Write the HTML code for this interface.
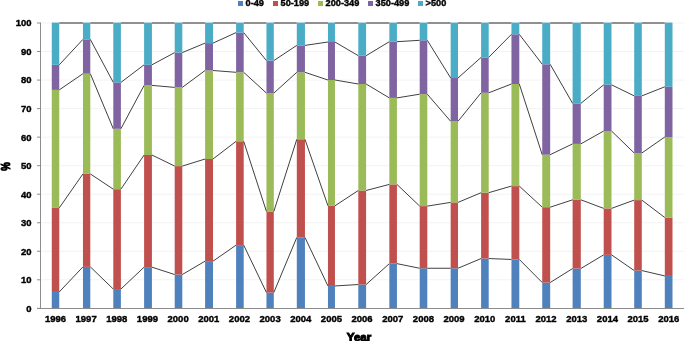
<!DOCTYPE html>
<html><head><meta charset="utf-8"><style>
html,body{margin:0;padding:0;background:#fff;}
body{width:685px;height:341px;overflow:hidden;}
svg{display:block;will-change:transform;}
.t{font-family:"Liberation Sans",sans-serif;font-weight:bold;font-size:9.5px;fill:#000;stroke:#000;stroke-width:0.4px;}
</style></head><body>
<svg width="685" height="341" viewBox="0 0 685 341">
<line x1="41" y1="279.81" x2="684" y2="279.81" stroke="#f3f3f3" stroke-width="1"/>
<line x1="41" y1="251.28" x2="684" y2="251.28" stroke="#f3f3f3" stroke-width="1"/>
<line x1="41" y1="222.75" x2="684" y2="222.75" stroke="#f3f3f3" stroke-width="1"/>
<line x1="41" y1="194.21" x2="684" y2="194.21" stroke="#f3f3f3" stroke-width="1"/>
<line x1="41" y1="165.68" x2="684" y2="165.68" stroke="#f3f3f3" stroke-width="1"/>
<line x1="41" y1="137.14" x2="684" y2="137.14" stroke="#f3f3f3" stroke-width="1"/>
<line x1="41" y1="108.61" x2="684" y2="108.61" stroke="#f3f3f3" stroke-width="1"/>
<line x1="41" y1="80.07" x2="684" y2="80.07" stroke="#f3f3f3" stroke-width="1"/>
<line x1="41" y1="51.53" x2="684" y2="51.53" stroke="#f3f3f3" stroke-width="1"/>
<line x1="41" y1="23.00" x2="684" y2="23.00" stroke="#f3f3f3" stroke-width="1"/>
<rect x="51.77" y="291.95" width="7.48" height="16.05" fill="#4F81BD"/>
<rect x="51.77" y="207.90" width="7.48" height="84.05" fill="#C0504D"/>
<rect x="51.77" y="89.90" width="7.48" height="118.00" fill="#9BBB59"/>
<rect x="51.77" y="64.80" width="7.48" height="25.10" fill="#8064A2"/>
<rect x="51.77" y="22.60" width="7.48" height="42.20" fill="#4BACC6"/>
<rect x="82.96" y="266.85" width="7.34" height="41.15" fill="#4F81BD"/>
<rect x="82.96" y="173.90" width="7.34" height="92.95" fill="#C0504D"/>
<rect x="82.96" y="73.70" width="7.34" height="100.20" fill="#9BBB59"/>
<rect x="82.96" y="39.40" width="7.34" height="34.30" fill="#8064A2"/>
<rect x="82.96" y="22.60" width="7.34" height="16.80" fill="#4BACC6"/>
<rect x="113.30" y="289.05" width="7.60" height="18.95" fill="#4F81BD"/>
<rect x="113.30" y="189.20" width="7.60" height="99.85" fill="#C0504D"/>
<rect x="113.30" y="128.80" width="7.60" height="60.40" fill="#9BBB59"/>
<rect x="113.30" y="82.40" width="7.60" height="46.40" fill="#8064A2"/>
<rect x="113.30" y="22.60" width="7.60" height="59.80" fill="#4BACC6"/>
<rect x="144.10" y="267.15" width="7.83" height="40.85" fill="#4F81BD"/>
<rect x="144.10" y="155.00" width="7.83" height="112.15" fill="#C0504D"/>
<rect x="144.10" y="85.40" width="7.83" height="69.60" fill="#9BBB59"/>
<rect x="144.10" y="64.80" width="7.83" height="20.60" fill="#8064A2"/>
<rect x="144.10" y="22.60" width="7.83" height="42.20" fill="#4BACC6"/>
<rect x="174.70" y="274.55" width="7.60" height="33.45" fill="#4F81BD"/>
<rect x="174.70" y="166.10" width="7.60" height="108.45" fill="#C0504D"/>
<rect x="174.70" y="87.40" width="7.60" height="78.70" fill="#9BBB59"/>
<rect x="174.70" y="52.60" width="7.60" height="34.80" fill="#8064A2"/>
<rect x="174.70" y="22.60" width="7.60" height="30.00" fill="#4BACC6"/>
<rect x="205.10" y="261.15" width="7.90" height="46.85" fill="#4F81BD"/>
<rect x="205.10" y="159.00" width="7.90" height="102.15" fill="#C0504D"/>
<rect x="205.10" y="70.50" width="7.90" height="88.50" fill="#9BBB59"/>
<rect x="205.10" y="43.10" width="7.90" height="27.40" fill="#8064A2"/>
<rect x="205.10" y="22.60" width="7.90" height="20.50" fill="#4BACC6"/>
<rect x="236.10" y="245.15" width="7.60" height="62.85" fill="#4F81BD"/>
<rect x="236.10" y="141.30" width="7.60" height="103.85" fill="#C0504D"/>
<rect x="236.10" y="72.30" width="7.60" height="69.00" fill="#9BBB59"/>
<rect x="236.10" y="32.60" width="7.60" height="39.70" fill="#8064A2"/>
<rect x="236.10" y="22.60" width="7.60" height="10.00" fill="#4BACC6"/>
<rect x="266.46" y="292.55" width="7.34" height="15.45" fill="#4F81BD"/>
<rect x="266.46" y="211.50" width="7.34" height="81.05" fill="#C0504D"/>
<rect x="266.46" y="93.10" width="7.34" height="118.40" fill="#9BBB59"/>
<rect x="266.46" y="60.60" width="7.34" height="32.50" fill="#8064A2"/>
<rect x="266.46" y="22.60" width="7.34" height="38.00" fill="#4BACC6"/>
<rect x="296.80" y="237.45" width="8.15" height="70.55" fill="#4F81BD"/>
<rect x="296.80" y="139.30" width="8.15" height="98.15" fill="#C0504D"/>
<rect x="296.80" y="72.30" width="8.15" height="67.00" fill="#9BBB59"/>
<rect x="296.80" y="45.40" width="8.15" height="26.90" fill="#8064A2"/>
<rect x="296.80" y="22.60" width="8.15" height="22.80" fill="#4BACC6"/>
<rect x="327.96" y="285.95" width="7.00" height="22.05" fill="#4F81BD"/>
<rect x="327.96" y="205.80" width="7.00" height="80.15" fill="#C0504D"/>
<rect x="327.96" y="80.00" width="7.00" height="125.80" fill="#9BBB59"/>
<rect x="327.96" y="42.00" width="7.00" height="38.00" fill="#8064A2"/>
<rect x="327.96" y="22.60" width="7.00" height="19.40" fill="#4BACC6"/>
<rect x="358.30" y="284.55" width="7.80" height="23.45" fill="#4F81BD"/>
<rect x="358.30" y="190.50" width="7.80" height="94.05" fill="#C0504D"/>
<rect x="358.30" y="84.00" width="7.80" height="106.50" fill="#9BBB59"/>
<rect x="358.30" y="55.70" width="7.80" height="28.30" fill="#8064A2"/>
<rect x="358.30" y="22.60" width="7.80" height="33.10" fill="#4BACC6"/>
<rect x="389.34" y="263.65" width="7.59" height="44.35" fill="#4F81BD"/>
<rect x="389.34" y="184.40" width="7.59" height="79.25" fill="#C0504D"/>
<rect x="389.34" y="97.90" width="7.59" height="86.50" fill="#9BBB59"/>
<rect x="389.34" y="41.70" width="7.59" height="56.20" fill="#8064A2"/>
<rect x="389.34" y="22.60" width="7.59" height="19.10" fill="#4BACC6"/>
<rect x="419.70" y="268.25" width="7.60" height="39.75" fill="#4F81BD"/>
<rect x="419.70" y="206.10" width="7.60" height="62.15" fill="#C0504D"/>
<rect x="419.70" y="94.20" width="7.60" height="111.90" fill="#9BBB59"/>
<rect x="419.70" y="40.30" width="7.60" height="53.90" fill="#8064A2"/>
<rect x="419.70" y="22.60" width="7.60" height="17.70" fill="#4BACC6"/>
<rect x="450.66" y="268.25" width="7.34" height="39.75" fill="#4F81BD"/>
<rect x="450.66" y="202.40" width="7.34" height="65.85" fill="#C0504D"/>
<rect x="450.66" y="121.30" width="7.34" height="81.10" fill="#9BBB59"/>
<rect x="450.66" y="78.00" width="7.34" height="43.30" fill="#8064A2"/>
<rect x="450.66" y="22.60" width="7.34" height="55.40" fill="#4BACC6"/>
<rect x="481.10" y="258.55" width="7.60" height="49.45" fill="#4F81BD"/>
<rect x="481.10" y="192.70" width="7.60" height="65.85" fill="#C0504D"/>
<rect x="481.10" y="92.80" width="7.60" height="99.90" fill="#9BBB59"/>
<rect x="481.10" y="57.40" width="7.60" height="35.40" fill="#8064A2"/>
<rect x="481.10" y="22.60" width="7.60" height="34.80" fill="#4BACC6"/>
<rect x="511.46" y="259.45" width="7.84" height="48.55" fill="#4F81BD"/>
<rect x="511.46" y="186.10" width="7.84" height="73.35" fill="#C0504D"/>
<rect x="511.46" y="84.00" width="7.84" height="102.10" fill="#9BBB59"/>
<rect x="511.46" y="34.30" width="7.84" height="49.70" fill="#8064A2"/>
<rect x="511.46" y="22.60" width="7.84" height="11.70" fill="#4BACC6"/>
<rect x="542.24" y="282.55" width="7.94" height="25.45" fill="#4F81BD"/>
<rect x="542.24" y="207.20" width="7.94" height="75.35" fill="#C0504D"/>
<rect x="542.24" y="154.70" width="7.94" height="52.50" fill="#9BBB59"/>
<rect x="542.24" y="64.30" width="7.94" height="90.40" fill="#8064A2"/>
<rect x="542.24" y="22.60" width="7.94" height="41.70" fill="#4BACC6"/>
<rect x="572.60" y="268.55" width="8.20" height="39.45" fill="#4F81BD"/>
<rect x="572.60" y="199.80" width="8.20" height="68.75" fill="#C0504D"/>
<rect x="572.60" y="143.90" width="8.20" height="55.90" fill="#9BBB59"/>
<rect x="572.60" y="103.40" width="8.20" height="40.50" fill="#8064A2"/>
<rect x="572.60" y="22.60" width="8.20" height="80.80" fill="#4BACC6"/>
<rect x="603.70" y="254.85" width="7.80" height="53.15" fill="#4F81BD"/>
<rect x="603.70" y="208.40" width="7.80" height="46.45" fill="#C0504D"/>
<rect x="603.70" y="131.00" width="7.80" height="77.40" fill="#9BBB59"/>
<rect x="603.70" y="84.80" width="7.80" height="46.20" fill="#8064A2"/>
<rect x="603.70" y="22.60" width="7.80" height="62.20" fill="#4BACC6"/>
<rect x="634.20" y="270.55" width="7.60" height="37.45" fill="#4F81BD"/>
<rect x="634.20" y="200.10" width="7.60" height="70.45" fill="#C0504D"/>
<rect x="634.20" y="153.00" width="7.60" height="47.10" fill="#9BBB59"/>
<rect x="634.20" y="95.90" width="7.60" height="57.10" fill="#8064A2"/>
<rect x="634.20" y="22.60" width="7.60" height="73.30" fill="#4BACC6"/>
<rect x="664.80" y="275.95" width="7.70" height="32.05" fill="#4F81BD"/>
<rect x="664.80" y="217.50" width="7.70" height="58.45" fill="#C0504D"/>
<rect x="664.80" y="137.00" width="7.70" height="80.50" fill="#9BBB59"/>
<rect x="664.80" y="86.80" width="7.70" height="50.20" fill="#8064A2"/>
<rect x="664.80" y="22.60" width="7.70" height="64.20" fill="#4BACC6"/>
<line x1="59.25" y1="291.95" x2="82.96" y2="266.85" stroke="#404040" stroke-width="1"/>
<line x1="90.30" y1="266.85" x2="113.30" y2="289.05" stroke="#404040" stroke-width="1"/>
<line x1="120.90" y1="289.05" x2="144.10" y2="267.15" stroke="#404040" stroke-width="1"/>
<line x1="151.93" y1="267.15" x2="174.70" y2="274.55" stroke="#404040" stroke-width="1"/>
<line x1="182.30" y1="274.55" x2="205.10" y2="261.15" stroke="#404040" stroke-width="1"/>
<line x1="213.00" y1="261.15" x2="236.10" y2="245.15" stroke="#404040" stroke-width="1"/>
<line x1="243.70" y1="245.15" x2="266.46" y2="292.55" stroke="#404040" stroke-width="1"/>
<line x1="273.80" y1="292.55" x2="296.80" y2="237.45" stroke="#404040" stroke-width="1"/>
<line x1="304.95" y1="237.45" x2="327.96" y2="285.95" stroke="#404040" stroke-width="1"/>
<line x1="334.96" y1="285.95" x2="358.30" y2="284.55" stroke="#404040" stroke-width="1"/>
<line x1="366.10" y1="284.55" x2="389.34" y2="263.65" stroke="#404040" stroke-width="1"/>
<line x1="396.93" y1="263.65" x2="419.70" y2="268.25" stroke="#404040" stroke-width="1"/>
<line x1="427.30" y1="268.25" x2="450.66" y2="268.25" stroke="#404040" stroke-width="1"/>
<line x1="458.00" y1="268.25" x2="481.10" y2="258.55" stroke="#404040" stroke-width="1"/>
<line x1="488.70" y1="258.55" x2="511.46" y2="259.45" stroke="#404040" stroke-width="1"/>
<line x1="519.30" y1="259.45" x2="542.24" y2="282.55" stroke="#404040" stroke-width="1"/>
<line x1="550.18" y1="282.55" x2="572.60" y2="268.55" stroke="#404040" stroke-width="1"/>
<line x1="580.80" y1="268.55" x2="603.70" y2="254.85" stroke="#404040" stroke-width="1"/>
<line x1="611.50" y1="254.85" x2="634.20" y2="270.55" stroke="#404040" stroke-width="1"/>
<line x1="641.80" y1="270.55" x2="664.80" y2="275.95" stroke="#404040" stroke-width="1"/>
<line x1="59.25" y1="207.90" x2="82.96" y2="173.90" stroke="#404040" stroke-width="1"/>
<line x1="90.30" y1="173.90" x2="113.30" y2="189.20" stroke="#404040" stroke-width="1"/>
<line x1="120.90" y1="189.20" x2="144.10" y2="155.00" stroke="#404040" stroke-width="1"/>
<line x1="151.93" y1="155.00" x2="174.70" y2="166.10" stroke="#404040" stroke-width="1"/>
<line x1="182.30" y1="166.10" x2="205.10" y2="159.00" stroke="#404040" stroke-width="1"/>
<line x1="213.00" y1="159.00" x2="236.10" y2="141.30" stroke="#404040" stroke-width="1"/>
<line x1="243.70" y1="141.30" x2="266.46" y2="211.50" stroke="#404040" stroke-width="1"/>
<line x1="273.80" y1="211.50" x2="296.80" y2="139.30" stroke="#404040" stroke-width="1"/>
<line x1="304.95" y1="139.30" x2="327.96" y2="205.80" stroke="#404040" stroke-width="1"/>
<line x1="334.96" y1="205.80" x2="358.30" y2="190.50" stroke="#404040" stroke-width="1"/>
<line x1="366.10" y1="190.50" x2="389.34" y2="184.40" stroke="#404040" stroke-width="1"/>
<line x1="396.93" y1="184.40" x2="419.70" y2="206.10" stroke="#404040" stroke-width="1"/>
<line x1="427.30" y1="206.10" x2="450.66" y2="202.40" stroke="#404040" stroke-width="1"/>
<line x1="458.00" y1="202.40" x2="481.10" y2="192.70" stroke="#404040" stroke-width="1"/>
<line x1="488.70" y1="192.70" x2="511.46" y2="186.10" stroke="#404040" stroke-width="1"/>
<line x1="519.30" y1="186.10" x2="542.24" y2="207.20" stroke="#404040" stroke-width="1"/>
<line x1="550.18" y1="207.20" x2="572.60" y2="199.80" stroke="#404040" stroke-width="1"/>
<line x1="580.80" y1="199.80" x2="603.70" y2="208.40" stroke="#404040" stroke-width="1"/>
<line x1="611.50" y1="208.40" x2="634.20" y2="200.10" stroke="#404040" stroke-width="1"/>
<line x1="641.80" y1="200.10" x2="664.80" y2="217.50" stroke="#404040" stroke-width="1"/>
<line x1="59.25" y1="89.90" x2="82.96" y2="73.70" stroke="#404040" stroke-width="1"/>
<line x1="90.30" y1="73.70" x2="113.30" y2="128.80" stroke="#404040" stroke-width="1"/>
<line x1="120.90" y1="128.80" x2="144.10" y2="85.40" stroke="#404040" stroke-width="1"/>
<line x1="151.93" y1="85.40" x2="174.70" y2="87.40" stroke="#404040" stroke-width="1"/>
<line x1="182.30" y1="87.40" x2="205.10" y2="70.50" stroke="#404040" stroke-width="1"/>
<line x1="213.00" y1="70.50" x2="236.10" y2="72.30" stroke="#404040" stroke-width="1"/>
<line x1="243.70" y1="72.30" x2="266.46" y2="93.10" stroke="#404040" stroke-width="1"/>
<line x1="273.80" y1="93.10" x2="296.80" y2="72.30" stroke="#404040" stroke-width="1"/>
<line x1="304.95" y1="72.30" x2="327.96" y2="80.00" stroke="#404040" stroke-width="1"/>
<line x1="334.96" y1="80.00" x2="358.30" y2="84.00" stroke="#404040" stroke-width="1"/>
<line x1="366.10" y1="84.00" x2="389.34" y2="97.90" stroke="#404040" stroke-width="1"/>
<line x1="396.93" y1="97.90" x2="419.70" y2="94.20" stroke="#404040" stroke-width="1"/>
<line x1="427.30" y1="94.20" x2="450.66" y2="121.30" stroke="#404040" stroke-width="1"/>
<line x1="458.00" y1="121.30" x2="481.10" y2="92.80" stroke="#404040" stroke-width="1"/>
<line x1="488.70" y1="92.80" x2="511.46" y2="84.00" stroke="#404040" stroke-width="1"/>
<line x1="519.30" y1="84.00" x2="542.24" y2="154.70" stroke="#404040" stroke-width="1"/>
<line x1="550.18" y1="154.70" x2="572.60" y2="143.90" stroke="#404040" stroke-width="1"/>
<line x1="580.80" y1="143.90" x2="603.70" y2="131.00" stroke="#404040" stroke-width="1"/>
<line x1="611.50" y1="131.00" x2="634.20" y2="153.00" stroke="#404040" stroke-width="1"/>
<line x1="641.80" y1="153.00" x2="664.80" y2="137.00" stroke="#404040" stroke-width="1"/>
<line x1="59.25" y1="64.80" x2="82.96" y2="39.40" stroke="#404040" stroke-width="1"/>
<line x1="90.30" y1="39.40" x2="113.30" y2="82.40" stroke="#404040" stroke-width="1"/>
<line x1="120.90" y1="82.40" x2="144.10" y2="64.80" stroke="#404040" stroke-width="1"/>
<line x1="151.93" y1="64.80" x2="174.70" y2="52.60" stroke="#404040" stroke-width="1"/>
<line x1="182.30" y1="52.60" x2="205.10" y2="43.10" stroke="#404040" stroke-width="1"/>
<line x1="213.00" y1="43.10" x2="236.10" y2="32.60" stroke="#404040" stroke-width="1"/>
<line x1="243.70" y1="32.60" x2="266.46" y2="60.60" stroke="#404040" stroke-width="1"/>
<line x1="273.80" y1="60.60" x2="296.80" y2="45.40" stroke="#404040" stroke-width="1"/>
<line x1="304.95" y1="45.40" x2="327.96" y2="42.00" stroke="#404040" stroke-width="1"/>
<line x1="334.96" y1="42.00" x2="358.30" y2="55.70" stroke="#404040" stroke-width="1"/>
<line x1="366.10" y1="55.70" x2="389.34" y2="41.70" stroke="#404040" stroke-width="1"/>
<line x1="396.93" y1="41.70" x2="419.70" y2="40.30" stroke="#404040" stroke-width="1"/>
<line x1="427.30" y1="40.30" x2="450.66" y2="78.00" stroke="#404040" stroke-width="1"/>
<line x1="458.00" y1="78.00" x2="481.10" y2="57.40" stroke="#404040" stroke-width="1"/>
<line x1="488.70" y1="57.40" x2="511.46" y2="34.30" stroke="#404040" stroke-width="1"/>
<line x1="519.30" y1="34.30" x2="542.24" y2="64.30" stroke="#404040" stroke-width="1"/>
<line x1="550.18" y1="64.30" x2="572.60" y2="103.40" stroke="#404040" stroke-width="1"/>
<line x1="580.80" y1="103.40" x2="603.70" y2="84.80" stroke="#404040" stroke-width="1"/>
<line x1="611.50" y1="84.80" x2="634.20" y2="95.90" stroke="#404040" stroke-width="1"/>
<line x1="641.80" y1="95.90" x2="664.80" y2="86.80" stroke="#404040" stroke-width="1"/>
<line x1="59.25" y1="23" x2="82.96" y2="23" stroke="#858585" stroke-width="1.8"/>
<line x1="90.30" y1="23" x2="113.30" y2="23" stroke="#858585" stroke-width="1.8"/>
<line x1="120.90" y1="23" x2="144.10" y2="23" stroke="#858585" stroke-width="1.8"/>
<line x1="151.93" y1="23" x2="174.70" y2="23" stroke="#858585" stroke-width="1.8"/>
<line x1="182.30" y1="23" x2="205.10" y2="23" stroke="#858585" stroke-width="1.8"/>
<line x1="213.00" y1="23" x2="236.10" y2="23" stroke="#858585" stroke-width="1.8"/>
<line x1="243.70" y1="23" x2="266.46" y2="23" stroke="#858585" stroke-width="1.8"/>
<line x1="273.80" y1="23" x2="296.80" y2="23" stroke="#858585" stroke-width="1.8"/>
<line x1="304.95" y1="23" x2="327.96" y2="23" stroke="#858585" stroke-width="1.8"/>
<line x1="334.96" y1="23" x2="358.30" y2="23" stroke="#858585" stroke-width="1.8"/>
<line x1="366.10" y1="23" x2="389.34" y2="23" stroke="#858585" stroke-width="1.8"/>
<line x1="396.93" y1="23" x2="419.70" y2="23" stroke="#858585" stroke-width="1.8"/>
<line x1="427.30" y1="23" x2="450.66" y2="23" stroke="#858585" stroke-width="1.8"/>
<line x1="458.00" y1="23" x2="481.10" y2="23" stroke="#858585" stroke-width="1.8"/>
<line x1="488.70" y1="23" x2="511.46" y2="23" stroke="#858585" stroke-width="1.8"/>
<line x1="519.30" y1="23" x2="542.24" y2="23" stroke="#858585" stroke-width="1.8"/>
<line x1="550.18" y1="23" x2="572.60" y2="23" stroke="#858585" stroke-width="1.8"/>
<line x1="580.80" y1="23" x2="603.70" y2="23" stroke="#858585" stroke-width="1.8"/>
<line x1="611.50" y1="23" x2="634.20" y2="23" stroke="#858585" stroke-width="1.8"/>
<line x1="641.80" y1="23" x2="664.80" y2="23" stroke="#858585" stroke-width="1.8"/>
<line x1="40.5" y1="22.5" x2="40.5" y2="308.5" stroke="#8c8c8c" stroke-width="1"/>
<line x1="37" y1="308.35" x2="40.5" y2="308.35" stroke="#8c8c8c" stroke-width="1"/>
<line x1="37" y1="279.81" x2="40.5" y2="279.81" stroke="#8c8c8c" stroke-width="1"/>
<line x1="37" y1="251.28" x2="40.5" y2="251.28" stroke="#8c8c8c" stroke-width="1"/>
<line x1="37" y1="222.75" x2="40.5" y2="222.75" stroke="#8c8c8c" stroke-width="1"/>
<line x1="37" y1="194.21" x2="40.5" y2="194.21" stroke="#8c8c8c" stroke-width="1"/>
<line x1="37" y1="165.68" x2="40.5" y2="165.68" stroke="#8c8c8c" stroke-width="1"/>
<line x1="37" y1="137.14" x2="40.5" y2="137.14" stroke="#8c8c8c" stroke-width="1"/>
<line x1="37" y1="108.61" x2="40.5" y2="108.61" stroke="#8c8c8c" stroke-width="1"/>
<line x1="37" y1="80.07" x2="40.5" y2="80.07" stroke="#8c8c8c" stroke-width="1"/>
<line x1="37" y1="51.53" x2="40.5" y2="51.53" stroke="#8c8c8c" stroke-width="1"/>
<line x1="37" y1="23.00" x2="40.5" y2="23.00" stroke="#8c8c8c" stroke-width="1"/>
<line x1="37" y1="308.5" x2="684" y2="308.5" stroke="#8c8c8c" stroke-width="1"/>
<text x="31.6" y="311.75" text-anchor="end" class="t">0</text>
<text x="31.6" y="283.21" text-anchor="end" class="t">10</text>
<text x="31.6" y="254.68" text-anchor="end" class="t">20</text>
<text x="31.6" y="226.15" text-anchor="end" class="t">30</text>
<text x="31.6" y="197.61" text-anchor="end" class="t">40</text>
<text x="31.6" y="169.08" text-anchor="end" class="t">50</text>
<text x="31.6" y="140.54" text-anchor="end" class="t">60</text>
<text x="31.6" y="112.01" text-anchor="end" class="t">70</text>
<text x="31.6" y="83.47" text-anchor="end" class="t">80</text>
<text x="31.6" y="54.93" text-anchor="end" class="t">90</text>
<text x="31.6" y="26.40" text-anchor="end" class="t">100</text>
<text x="55.45" y="322.4" text-anchor="middle" class="t">1996</text>
<text x="86.12" y="322.4" text-anchor="middle" class="t">1997</text>
<text x="116.78" y="322.4" text-anchor="middle" class="t">1998</text>
<text x="147.44" y="322.4" text-anchor="middle" class="t">1999</text>
<text x="178.11" y="322.4" text-anchor="middle" class="t">2000</text>
<text x="208.77" y="322.4" text-anchor="middle" class="t">2001</text>
<text x="239.44" y="322.4" text-anchor="middle" class="t">2002</text>
<text x="270.11" y="322.4" text-anchor="middle" class="t">2003</text>
<text x="300.77" y="322.4" text-anchor="middle" class="t">2004</text>
<text x="331.44" y="322.4" text-anchor="middle" class="t">2005</text>
<text x="362.10" y="322.4" text-anchor="middle" class="t">2006</text>
<text x="392.76" y="322.4" text-anchor="middle" class="t">2007</text>
<text x="423.43" y="322.4" text-anchor="middle" class="t">2008</text>
<text x="454.09" y="322.4" text-anchor="middle" class="t">2009</text>
<text x="484.76" y="322.4" text-anchor="middle" class="t">2010</text>
<text x="515.42" y="322.4" text-anchor="middle" class="t">2011</text>
<text x="546.09" y="322.4" text-anchor="middle" class="t">2012</text>
<text x="576.75" y="322.4" text-anchor="middle" class="t">2013</text>
<text x="607.42" y="322.4" text-anchor="middle" class="t">2014</text>
<text x="638.09" y="322.4" text-anchor="middle" class="t">2015</text>
<text x="668.75" y="322.4" text-anchor="middle" class="t">2016</text>
<text x="359.1" y="340.6" text-anchor="middle" class="t" style="font-size:11.6px;stroke-width:1.0px">Year</text>
<text transform="translate(9.6,166.4) rotate(-90) scale(0.8,1.12)" text-anchor="middle" class="t" style="font-size:12px;stroke-width:0.9px">%</text>
<rect x="238" y="1" width="5" height="5" fill="#4F81BD"/>
<text x="245.6" y="6.3" class="t" style="font-size:9.2px">0-49</text>
<rect x="273" y="1" width="5" height="5" fill="#C0504D"/>
<text x="280.6" y="6.3" class="t" style="font-size:9.2px">50-199</text>
<rect x="318" y="1" width="5" height="5" fill="#9BBB59"/>
<text x="325.6" y="6.3" class="t" style="font-size:9.2px">200-349</text>
<rect x="368" y="1" width="5" height="5" fill="#8064A2"/>
<text x="375.6" y="6.3" class="t" style="font-size:9.2px">350-499</text>
<rect x="418" y="1" width="5" height="5" fill="#4BACC6"/>
<text x="425.6" y="6.3" class="t" style="font-size:9.2px">&gt;500</text>
</svg>
</body></html>
